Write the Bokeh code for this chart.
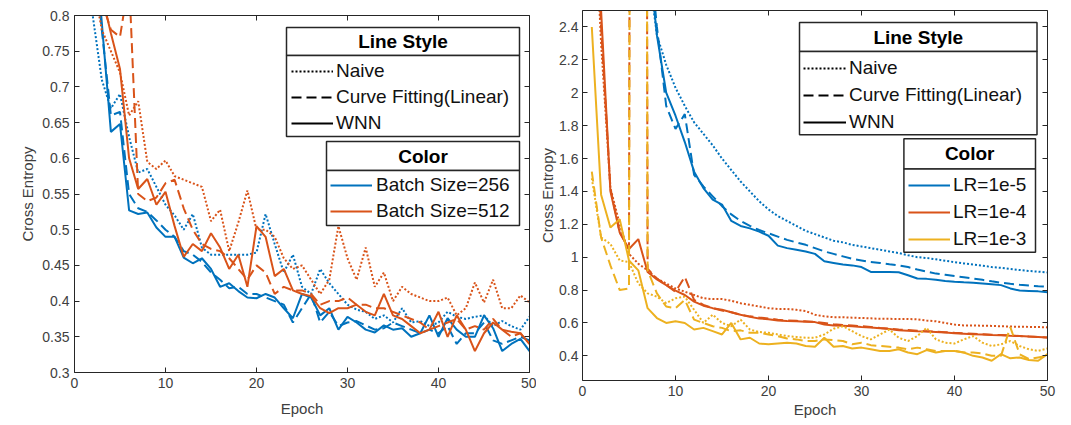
from bokeh.plotting import figure
from bokeh.models import (Range1d, FixedTicker, LinearAxis, Legend, LegendItem,
                          BoxAnnotation, Label)
from bokeh.layouts import row
from bokeh.embed import file_html
from bokeh.resources import INLINE

# ---------------- data ----------------
epochs = list(range(1, 51))

# Left panel: batch size
bs256_naive = [1.0, 0.8, 0.71, 0.67, 0.69, 0.63, 0.58, 0.585, 0.56, 0.535,
               0.52, 0.5, 0.522, 0.475, 0.465, 0.465, 0.465, 0.465, 0.465, 0.468,
               0.522, 0.48, 0.44, 0.465, 0.42, 0.41, 0.445, 0.425, 0.41, 0.395,
               0.388, 0.385, 0.375, 0.38, 0.37, 0.39, 0.37, 0.372, 0.365, 0.37,
               0.385, 0.378, 0.375, 0.378, 0.38, 0.365, 0.372, 0.365, 0.36, 0.378]
bs256_curvefit = [1.2, 0.92, 0.78, 0.66, 0.665, 0.55, 0.53, 0.525, 0.513, 0.5,
                  0.49, 0.47, 0.465, 0.455, 0.44, 0.43, 0.418, 0.42, 0.41, 0.41,
                  0.405, 0.4, 0.395, 0.37, 0.39, 0.41, 0.37, 0.385, 0.365, 0.37,
                  0.372, 0.366, 0.36, 0.362, 0.37, 0.365, 0.36, 0.355, 0.36, 0.355,
                  0.365, 0.34, 0.355, 0.355, 0.37, 0.345, 0.34, 0.345, 0.35, 0.345]
bs256_wnn = [1.30, 0.95, 0.79, 0.637, 0.648, 0.527, 0.522, 0.524, 0.503, 0.49,
             0.49, 0.461, 0.453, 0.46, 0.445, 0.42, 0.425, 0.414, 0.405, 0.404,
             0.41, 0.405, 0.39, 0.376, 0.41, 0.405, 0.38, 0.39, 0.36, 0.378,
             0.37, 0.36, 0.356, 0.366, 0.36, 0.362, 0.35, 0.355, 0.38, 0.35,
             0.376, 0.36, 0.35, 0.35, 0.38, 0.362, 0.33, 0.34, 0.347, 0.33]
bs512_naive = [1.1, 0.85, 0.78, 0.75, 0.72, 0.66, 0.68, 0.595, 0.585, 0.597,
               0.575, 0.57, 0.565, 0.56, 0.512, 0.528, 0.47, 0.51, 0.555, 0.5,
               0.5, 0.49, 0.46, 0.445, 0.45, 0.43, 0.41, 0.43, 0.505, 0.46,
               0.43, 0.475, 0.42, 0.44, 0.4, 0.42, 0.41, 0.405, 0.4, 0.4,
               0.405, 0.38, 0.39, 0.426, 0.398, 0.43, 0.39, 0.39, 0.408, 0.398]
bs512_curvefit = [1.2, 0.9, 0.82, 0.78, 0.77, 0.85, 0.55, 0.54, 0.545, 0.565,
                  0.57, 0.53, 0.5, 0.48, 0.473, 0.47, 0.46, 0.445, 0.43, 0.45,
                  0.44, 0.41, 0.42, 0.415, 0.415, 0.41, 0.395, 0.4, 0.4, 0.405,
                  0.395, 0.395, 0.39, 0.39, 0.385, 0.38, 0.375, 0.37, 0.36, 0.365,
                  0.37, 0.375, 0.36, 0.365, 0.36, 0.375, 0.36, 0.35, 0.355, 0.34]
bs512_wnn = [1.4, 1.0, 0.83, 0.775, 0.725, 0.6, 0.557, 0.571, 0.535, 0.553,
             0.505, 0.462, 0.48, 0.47, 0.495, 0.475, 0.445, 0.465, 0.42, 0.505,
             0.49, 0.435, 0.445, 0.415, 0.41, 0.407, 0.39, 0.383, 0.39, 0.39,
             0.395, 0.385, 0.38, 0.41, 0.38, 0.375, 0.365, 0.355, 0.36, 0.385,
             0.35, 0.38, 0.36, 0.33, 0.355, 0.37, 0.36, 0.357, 0.355, 0.34]

# Right panel: learning rate
lr1e5_naive = [6.6, 5.9, 5.1, 4.5, 3.9, 3.3, 2.8, 2.35, 2.17, 2.03,
               1.92, 1.82, 1.75, 1.68, 1.6, 1.53, 1.46, 1.4, 1.34, 1.29,
               1.25, 1.22, 1.19, 1.16, 1.14, 1.12, 1.1, 1.09, 1.075, 1.065,
               1.055, 1.045, 1.035, 1.025, 1.012, 1.0, 0.995, 0.987, 0.978, 0.97,
               0.962, 0.955, 0.948, 0.94, 0.935, 0.928, 0.922, 0.916, 0.912, 0.907]
lr1e5_curvefit = [6.6, 5.9, 5.0, 4.4, 3.9, 3.4, 3.0, 2.4, 1.92, 1.78,
                  1.87, 1.5, 1.43, 1.37, 1.31, 1.26, 1.22, 1.19, 1.165, 1.145,
                  1.125, 1.105, 1.09, 1.075, 1.055, 1.035, 1.02, 1.005, 0.99, 0.98,
                  0.97, 0.965, 0.957, 0.95, 0.94, 0.925, 0.912, 0.9, 0.893, 0.885,
                  0.878, 0.87, 0.862, 0.853, 0.845, 0.838, 0.832, 0.827, 0.823, 0.82]
lr1e5_wnn = [6.5, 5.8, 5.0, 4.4, 3.9, 3.4, 2.9, 2.35, 2.0, 1.86,
             1.7, 1.52, 1.42, 1.35, 1.32, 1.22, 1.19, 1.175, 1.155, 1.13,
             1.07, 1.055, 1.045, 1.035, 1.02, 0.975, 0.965, 0.955, 0.95, 0.94,
             0.91, 0.91, 0.91, 0.908, 0.89, 0.87, 0.868, 0.862, 0.855, 0.85,
             0.847, 0.845, 0.84, 0.835, 0.83, 0.81, 0.797, 0.795, 0.792, 0.787]
lr1e4_naive = [3.5, 2.3, 1.42, 1.2, 1.02, 0.96, 0.92, 0.87, 0.84, 0.81,
               0.79, 0.77, 0.75, 0.745, 0.745, 0.735, 0.72, 0.71, 0.7, 0.69,
               0.685, 0.685, 0.68, 0.672, 0.65, 0.64, 0.635, 0.635, 0.632, 0.63,
               0.628, 0.625, 0.625, 0.624, 0.624, 0.622, 0.615, 0.61, 0.6, 0.59,
               0.585, 0.585, 0.583, 0.582, 0.58, 0.578, 0.577, 0.576, 0.575, 0.573]
lr1e4_curvefit = [3.6, 2.4, 1.42, 1.15, 1.05, 30.0, 0.93, 0.87, 0.83, 0.79,
                  0.88, 0.74, 0.71, 0.69, 0.675, 0.665, 0.65, 0.64, 0.633, 0.627,
                  0.62, 0.615, 0.613, 0.61, 0.607, 0.6, 0.592, 0.587, 0.584, 0.58,
                  0.575, 0.57, 0.566, 0.56, 0.557, 0.553, 0.55, 0.547, 0.544, 0.54,
                  0.537, 0.534, 0.531, 0.528, 0.526, 0.524, 0.52, 0.518, 0.515, 0.512]
lr1e4_wnn = [3.8, 2.5, 1.4, 1.15, 1.05, 1.11, 0.91, 0.865, 0.83, 0.796,
             0.77, 0.73, 0.705, 0.69, 0.68, 0.665, 0.65, 0.637, 0.627, 0.623,
             0.615, 0.612, 0.61, 0.607, 0.605, 0.59, 0.585, 0.583, 0.58, 0.575,
             0.572, 0.568, 0.563, 0.556, 0.553, 0.55, 0.548, 0.545, 0.542, 0.538,
             0.535, 0.532, 0.53, 0.527, 0.525, 0.522, 0.52, 0.517, 0.515, 0.512]
lr1e3_naive = [1.48, 1.12, 1.08, 0.98, 0.97, 0.84, 0.78, 0.76, 0.72, 0.75,
               0.76, 0.68, 0.6, 0.65, 0.6, 0.58, 0.62, 0.56, 0.545, 0.54,
               0.53, 0.52, 0.515, 0.51, 0.51, 0.53, 0.565, 0.58, 0.55, 0.52,
               0.5, 0.53, 0.56, 0.51, 0.49, 0.52, 0.57, 0.5, 0.48, 0.475,
               0.5, 0.52, 0.48, 0.46, 0.47, 0.49, 0.46, 0.44, 0.43, 0.445]
lr1e3_curvefit = [1.52, 1.12, 0.95, 0.8, 0.81, 30.0, 0.92, 0.78, 0.7, 0.69,
                  0.74, 0.62, 0.6, 0.58, 0.57, 0.55, 0.555, 0.54, 0.54, 0.53,
                  0.52, 0.505, 0.5, 0.49, 0.49, 0.5, 0.495, 0.49, 0.47, 0.48,
                  0.465, 0.46, 0.455, 0.45, 0.44, 0.45, 0.44, 0.43, 0.43, 0.43,
                  0.42, 0.42, 0.415, 0.4, 0.4, 0.575, 0.41, 0.38, 0.39, 0.4]
lr1e3_wnn = [2.4, 1.38, 1.18, 1.23, 0.98, 0.92, 0.69, 0.63, 0.6, 0.61,
             0.6, 0.56, 0.57, 0.55, 0.53, 0.6, 0.5, 0.51, 0.475, 0.47,
             0.475, 0.48, 0.475, 0.46, 0.455, 0.51, 0.455, 0.46, 0.445, 0.45,
             0.44, 0.43, 0.43, 0.44, 0.42, 0.41, 0.435, 0.42, 0.43, 0.43,
             0.42, 0.4, 0.39, 0.37, 0.41, 0.385, 0.39, 0.375, 0.37, 0.41]

x_ticks = [0, 10, 20, 30, 40, 50]
x_tick_labels = ["0", "10", "20", "30", "40", "50"]
left_y_ticks = [0.3, 0.35, 0.4, 0.45, 0.5, 0.55, 0.6, 0.65, 0.7, 0.75, 0.8]
left_y_tick_labels = ["0.3", "0.35", "0.4", "0.45", "0.5", "0.55", "0.6", "0.65", "0.7", "0.75", "0.8"]
right_y_ticks = [0.4, 0.6, 0.8, 1.0, 1.2, 1.4, 1.6, 1.8, 2.0, 2.2, 2.4]
right_y_tick_labels = ["0.4", "0.6", "0.8", "1", "1.2", "1.4", "1.6", "1.8", "2", "2.2", "2.4"]

style_labels = ["Naive", "Curve Fitting(Linear)", "WNN"]
batch_labels = ["Batch Size=256", "Batch Size=512"]
lr_labels = ["LR=1e-5", "LR=1e-4", "LR=1e-3"]
style_title = "Line Style"
color_title = "Color"
x_label = "Epoch"
y_label = "Cross Entropy"

# ---------------- style ----------------
BLUE, ORANGE, YELLOW = "#0072BD", "#D95319", "#EDB120"
AX = "#262626"
TXT = "#404040"
FONT = "Liberation Sans"
DASHES = ["2 2", "10 5", "solid"]
LW = 2
NAN = float("nan")


def style_axis(ax, ticks, labels, show_labels=True):
    ax.ticker = FixedTicker(ticks=ticks)
    ax.axis_line_color = AX
    ax.axis_line_width = 1
    ax.major_tick_line_color = AX
    ax.major_tick_in = 5
    ax.major_tick_out = 0
    ax.minor_tick_in = 0
    ax.minor_tick_out = 0
    if show_labels:
        ax.major_label_overrides = dict(zip(ticks, labels))
        ax.major_label_text_font = FONT
        ax.major_label_text_font_size = "14px"
        ax.major_label_text_color = TXT
        ax.axis_label_text_font = FONT
        ax.axis_label_text_font_size = "15px"
        ax.axis_label_text_font_style = "normal"
        ax.axis_label_text_color = TXT
    else:
        ax.major_label_overrides = {t: "" for t in ticks}
        ax.major_label_text_font_size = "0px"
        ax.major_label_standoff = 0


def make_fig(width, height, borders, yrange, yticks, ylabels, lab_stand, axl_stand_x, axl_stand_y):
    p = figure(width=width, height=height, x_range=Range1d(0, 50), y_range=Range1d(*yrange),
               output_backend="svg", toolbar_location=None, frame_align=False,
               min_border_left=borders[0], min_border_right=borders[1],
               min_border_top=borders[2], min_border_bottom=borders[3])
    p.xgrid.visible = False
    p.ygrid.visible = False
    p.outline_line_color = None
    p.background_fill_color = "white"
    p.border_fill_color = "white"
    style_axis(p.xaxis[0], x_ticks, x_tick_labels)
    style_axis(p.yaxis[0], yticks, ylabels)
    p.xaxis[0].axis_label = x_label
    p.yaxis[0].axis_label = y_label
    p.xaxis[0].major_label_standoff = lab_stand[0]
    p.yaxis[0].major_label_standoff = lab_stand[1]
    p.xaxis[0].axis_label_standoff = axl_stand_x
    p.yaxis[0].axis_label_standoff = axl_stand_y
    top = LinearAxis()
    style_axis(top, x_ticks, x_tick_labels, show_labels=False)
    p.add_layout(top, "above")
    right = LinearAxis()
    style_axis(right, yticks, ylabels, show_labels=False)
    p.add_layout(right, "right")
    return p


def legend_box(p, fw, fh, yrange, box, title):
    x0, x1, ytop, ysep, ybot = box
    def dx(px):
        return px / fw * 50.0
    def dy(py):
        return yrange[1] - py / fh * (yrange[1] - yrange[0])
    for t, b in ((ytop, ysep), (ysep, ybot)):
        p.add_layout(BoxAnnotation(left=dx(x0), right=dx(x1), top=dy(t), bottom=dy(b),
                                   fill_color="white", fill_alpha=1.0,
                                   line_color=AX, line_width=1.5, line_alpha=1.0))
    p.add_layout(Label(x=dx((x0 + x1) / 2), y=dy((ytop + ysep) / 2), text=title,
                       text_align="center", text_baseline="middle", text_font=FONT,
                       text_font_size="19px", text_font_style="bold", text_color="#000000"))


def add_legend(p, items, loc, glyph_w, standoff, spacing):
    lg = Legend(items=items, location=loc, orientation="vertical", padding=0, margin=0,
                spacing=spacing, glyph_width=glyph_w, glyph_height=20, label_height=20,
                label_width=20, label_standoff=standoff, label_text_font=FONT,
                label_text_font_size="19px", label_text_color="#111111",
                background_fill_alpha=0, border_line_alpha=0)
    p.add_layout(lg)


def style_proxies(p):
    # legend-only line samples (a single NaN point, so nothing is drawn in the axes)
    return [p.line(x=[NAN], y=[NAN], line_color="#000000", line_width=LW, line_dash=d)
            for d in DASHES]


# ---------------- left panel ----------------
LEFT_YR = (0.3, 0.8)
p1 = make_fig(536, 425, (74, 7, 15, 53), LEFT_YR, left_y_ticks, left_y_tick_labels,
              (5, 5), 9, 3)
left_series = [(BLUE, [bs256_naive, bs256_curvefit, bs256_wnn]),
               (ORANGE, [bs512_naive, bs512_curvefit, bs512_wnn])]
left_color_renderers = []
for color, series in left_series:
    for vals, dash in zip(series, DASHES):
        r = p1.line(epochs, vals, line_color=color, line_width=LW, line_dash=dash)
    left_color_renderers.append(r)
left_style_renderers = style_proxies(p1)

legend_box(p1, 455, 357, LEFT_YR, (212, 445, 12, 40, 121), style_title)
legend_box(p1, 455, 357, LEFT_YR, (252, 445, 126, 155, 210), color_title)
add_legend(p1, [LegendItem(label=l, renderers=[r]) for l, r in zip(style_labels, left_style_renderers)],
           (217, 238), 42, 3, 4)
add_legend(p1, [LegendItem(label=l, renderers=[r]) for l, r in zip(batch_labels, left_color_renderers)],
           (256, 150), 42, 4, 4)

# ---------------- right panel ----------------
RIGHT_YR = (0.25, 2.5)
p2 = make_fig(523, 425, (45, 12, 10, 45), RIGHT_YR, right_y_ticks, right_y_tick_labels,
              (5, 4), 2, 0)
right_series = [(BLUE, [lr1e5_naive, lr1e5_curvefit, lr1e5_wnn]),
                (ORANGE, [lr1e4_naive, lr1e4_curvefit, lr1e4_wnn]),
                (YELLOW, [lr1e3_naive, lr1e3_curvefit, lr1e3_wnn])]
right_color_renderers = []
for color, series in right_series:
    for vals, dash in zip(series, DASHES):
        r = p2.line(epochs, vals, line_color=color, line_width=LW, line_dash=dash)
    right_color_renderers.append(r)
right_style_renderers = style_proxies(p2)

legend_box(p2, 465, 369, RIGHT_YR, (217, 454.5, 12, 41, 124), style_title)
legend_box(p2, 465, 369, RIGHT_YR, (321.4, 453, 128, 158, 241), color_title)
add_legend(p2, [LegendItem(label=l, renderers=[r]) for l, r in zip(style_labels, right_style_renderers)],
           (221, 247), 43, 3, 5)
add_legend(p2, [LegendItem(label=l, renderers=[r]) for l, r in zip(lr_labels, right_color_renderers)],
           (326, 130), 42, 3, 5)

p = row(p1, p2)
open("out.html", "w").write(file_html(p, INLINE))
